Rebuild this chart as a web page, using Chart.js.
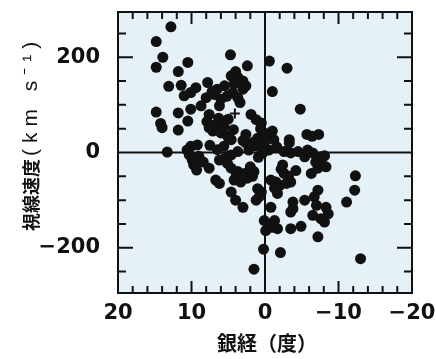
<!DOCTYPE html>
<html lang="ja">
<head>
  <meta charset="UTF-8" />
  <title>視線速度と銀経</title>
  <script src="https://cdn.jsdelivr.net/npm/chart.js"></script>
  <style>
    body { margin: 0; background: #fff; }
  </style>
</head>
<body>
  <canvas id="chart" width="436" height="359"></canvas>
  <script>
    // galactic longitude (deg), radial velocity (km/s)
    const galLon = [
      12.8, 14.8, 13.9, 14.8, 10.5, 4.7, 11.8, 2.4, -0.6, -3.0,
      13.1, 11.4, 9.4, 7.8, 11.0, 10.1, 6.5, 6.0, 6.9,
      4.6, 3.7, 3.0, 4.2, 3.0, 3.7, -1.0,
      14.8, 11.8, 10.1, 8.7, 7.6, 6.2,
      1.9, 1.2, 0.5, -4.8,
      14.2, 14.0, 11.8, 10.5,
      7.6, 6.7, 5.6, 7.1, 6.0, 5.1, 4.6,
      2.6, 1.0, 0.1, -1.0, -1.2,
      -3.3, -5.7, -7.3, -6.4,
      13.3, 10.1, 9.2, 10.3, 9.9, 9.3, 9.7,
      7.5, 6.5, 5.6, 4.6, 3.7, 5.3, 6.2, 5.1,
      2.6, 1.9, 1.0, 0.3, 0.1,
      -2.6, -3.5, -4.5, -5.4, -6.5, -7.6, -8.1, -8.3, -3.3,
      7.6, 6.7, 6.2,
      4.6, 3.7, 2.8, 4.2, 3.3, 2.4, 1.5,
      4.6, 1.0, 0.5, 1.2, 0.8, 4.0, 3.0,
      -0.8, -1.5, -2.4, -2.6, -2.0, -1.7, -3.5, -4.2, -2.9,
      -0.8, -6.3, -7.2, -7.6,
      -7.2, -6.7, -5.4, -3.8, -3.8, -3.5,
      -7.0, -6.5, -7.6, -8.3, -8.6, -8.1,
      -12.3, -12.2, -11.1,
      0.1, -0.6, -1.0, -1.3, -0.1, -1.7,
      -3.5, -4.9, -7.2, 0.2, -2.1, 1.5, -13.0,
      7.2, 5.5, 8.0, 5.2,
      4.0, 2.6, 4.4, 3.4,
      7.9, 5.0, 6.3, 4.3,
      0.6, -0.4, 1.5, -0.5, 0.9, -1.6,
      10.6, 9.0, 8.4,
      3.9, 2.0, 1.7,
      -2.2, -3.2, -1.3,
      -5.8, -6.9, 3.0, 2.2
    ];
    const radVel = [
      264, 233, 200, 179, 189, 205, 170, 182, 192, 177,
      139, 141, 136, 147, 119, 126, 133, 112, 122,
      161, 158, 150, 144, 133, 115, 128,
      85, 83, 91, 98, 80, 98,
      80, 69, 62, 91,
      61, 52, 47, 66,
      52, 59, 55, 45, 41, 34, 27,
      38, 30, 41, 45, 27,
      27, 38, 38, 34,
      1, 13, 16, -5, -16, -37, -26,
      15, 6, 13, -5, 2, -9, -16, -23,
      20, 13, 13, -1, 20,
      2, -1, 2, -9, -1, -9, -7, -30, 20,
      -33, -58, -65,
      -33, -40, -44, -58, -62, -54, -40,
      -83, -76, -83, -100, -93, -100, -115,
      -58, -62, -26, -44, -69, -86, -62, -38, -65,
      -115, -44, -33, -23,
      -79, -93, -100, -104, -118, -125,
      -111, -132, -139, -115, -129, -146,
      -49, -79, -104,
      -143, -150, -157, -143, -164, -160,
      -160, -155, -177, -203, -210, -245, -223,
      128, 140, 115, 118,
      170, 140, 125, 105,
      65, 70, 72, 48,
      50, 30, 22, 5, -10, 12,
      5, -8, -20,
      -48, -30, -50,
      -35, -50, -75,
      5, -20, 25, 5
    ];
    const crossLon = [4.1];
    const crossVel = [82];

    const xLabels = [20, 10, 0, -10, -20];
    const yLabels = [200, 0, -200];
    const xMajor = [10, -10];
    const xMinor = [18, 16, 14, 12, 8, 6, 4, 2, -2, -4, -6, -8, -12, -14, -16, -18];
    const yMajor = [200, -200];
    const yMinor = [250, 150, 100, 50, -50, -100, -150, -250];

    const pts = galLon.map((x, i) => ({ x: x, y: radVel[i] }));
    const cross = crossLon.map((x, i) => ({ x: x, y: crossVel[i] }));

    const minus = v => (v < 0 ? '\u2212' + Math.abs(v) : String(v));

    const frame = {
      id: 'frame',
      beforeDraw(chart) {
        const { ctx, chartArea: a } = chart;
        ctx.save();
        ctx.fillStyle = '#e6f0f7';
        ctx.fillRect(a.left, a.top, a.right - a.left, a.bottom - a.top);
        ctx.restore();
      },
      beforeDatasetsDraw(chart) {
        const { ctx, chartArea: a, scales } = chart;
        ctx.save();
        ctx.strokeStyle = '#111';
        ctx.lineWidth = 2;
        const x0 = scales.x.getPixelForValue(0);
        const y0 = scales.y.getPixelForValue(0);
        ctx.beginPath();
        ctx.moveTo(x0, a.top); ctx.lineTo(x0, a.bottom);
        ctx.moveTo(a.left, y0); ctx.lineTo(a.right, y0);
        ctx.stroke();
        ctx.restore();
      },
      afterDraw(chart) {
        const { ctx, chartArea: a, scales } = chart;
        ctx.save();
        ctx.strokeStyle = '#111';
        ctx.lineWidth = 2;
        ctx.strokeRect(a.left, a.top, a.right - a.left, a.bottom - a.top);
        ctx.beginPath();
        const xt = (vals, len) => vals.forEach(v => {
          const p = scales.x.getPixelForValue(v);
          ctx.moveTo(p, a.bottom); ctx.lineTo(p, a.bottom - len);
          ctx.moveTo(p, a.top); ctx.lineTo(p, a.top + len);
        });
        const yt = (vals, len) => vals.forEach(v => {
          const p = scales.y.getPixelForValue(v);
          ctx.moveTo(a.left, p); ctx.lineTo(a.left + len, p);
          ctx.moveTo(a.right, p); ctx.lineTo(a.right - len, p);
        });
        xt(xMajor, 12); xt(xMinor, 7);
        yt(yMajor, 15); yt(yMinor, 8);
        ctx.stroke();

        // axis titles
        ctx.fillStyle = '#111';
        ctx.textBaseline = 'middle';
        ctx.textAlign = 'center';
        ctx.font = 'bold 20px "Noto Sans CJK JP"';
        ctx.fillText('銀経（度）', (a.left + a.right) / 2 + 2, 343);

        ctx.translate(31, 0);
        ctx.rotate(-Math.PI / 2);
        ctx.textAlign = 'left';
        ctx.font = 'bold 18px "Noto Sans CJK JP"';
        ctx.fillText('視線速度', -231, 0);
        ctx.font = '21px "Liberation Sans"';
        ctx.letterSpacing = '6px';
        ctx.fillText('(km s\u207B\u00B9)', -156, 0);
        ctx.restore();
      }
    };

    const tickFont = { family: 'DejaVu Sans', weight: 'bold', size: 21 };

    new Chart(document.getElementById('chart'), {
      type: 'scatter',
      data: {
        datasets: [
          {
            data: pts,
            backgroundColor: '#111',
            borderColor: '#111',
            pointRadius: 5.5,
            borderWidth: 0
          },
          {
            data: cross,
            pointStyle: 'cross',
            borderColor: '#111',
            pointRadius: 5,
            borderWidth: 2
          }
        ]
      },
      options: {
        responsive: false,
        animation: false,
        layout: { padding: { top: 12, right: 24, left: 0, bottom: 0 } },
        plugins: { legend: { display: false }, tooltip: { enabled: false } },
        scales: {
          x: {
            type: 'linear',
            reverse: true,
            min: -20,
            max: 20,
            grid: { display: false, drawTicks: false },
            border: { display: false },
            afterFit(s) { s.height = 66; s.paddingLeft = 0; s.paddingRight = 0; },
            afterBuildTicks(s) { s.ticks = xLabels.map(v => ({ value: v })); },
            ticks: {
              color: '#111',
              padding: 8,
              maxRotation: 0,
              font: tickFont,
              callback: v => minus(v)
            }
          },
          y: {
            type: 'linear',
            min: -295,
            max: 295,
            grid: { display: false, drawTicks: false },
            border: { display: false },
            afterFit(s) { s.width = 118; s.paddingTop = 0; s.paddingBottom = 0; },
            afterBuildTicks(s) { s.ticks = yLabels.map(v => ({ value: v })); },
            ticks: {
              color: '#111',
              padding: 18,
              font: tickFont,
              callback: v => minus(v)
            }
          }
        }
      },
      plugins: [frame]
    });
  </script>
</body>
</html>
